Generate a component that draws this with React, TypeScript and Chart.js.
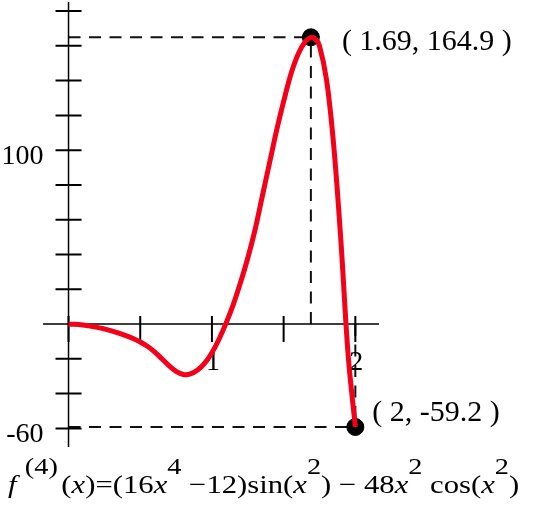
import { useEffect, useRef } from 'react';
import { Chart, registerables } from 'chart.js';

Chart.register(...registerables);

// curve samples
const xValues = [0, 0.1, 0.2, 0.3, 0.4, 0.45, 0.5, 0.55, 0.6, 0.65, 0.7, 0.75, 0.8, 0.85, 0.9, 0.95, 1.0, 1.05, 1.1, 1.15, 1.2, 1.25, 1.3, 1.35, 1.4, 1.45, 1.5, 1.55, 1.6, 1.65, 1.69, 1.72, 1.75, 1.8, 1.85, 1.9, 1.95, 2.0];
const fValues = [0, -0.6, -1.9, -3.9, -6.6, -8.3, -10.3, -12.8, -16, -19.9, -23.9, -27.2, -29, -28.7, -26.4, -22.5, -16.5, -8.6, 0.8, 11.5, 24, 38, 54, 73, 92, 111, 128, 143.5, 155, 162.3, 164.9, 164, 160, 140, 102, 47, -18, -59.2];

const xTicks = [0, 0.5, 1, 1.5, 2];
const xTickLabels = [1, 2];
const yTicks = [-60, -40, -20, 20, 40, 60, 80, 100, 120, 140, 160, 180];
const yTickLabels = [100, -60];

// marked points
const markX = [1.69, 2];
const markY = [164.9, -59.2];
const markText = ['( 1.69, 164.9 )', '( 2, -59.2 )'];

const FONT = '"Liberation Serif", "Times New Roman", serif';

const axesPlugin = {
  id: 'originAxes',
  beforeDatasetsDraw(chart: any) {
    const { ctx, chartArea, scales } = chart;
    const sx = scales.x;
    const sy = scales.y;
    const x0 = sx.getPixelForValue(0);
    const y0 = sy.getPixelForValue(0);
    ctx.save();

    // dashed guides
    ctx.setLineDash([12, 8.5]);
    ctx.lineWidth = 2;
    ctx.strokeStyle = '#111';
    markX.forEach((mx, i) => {
      const px = sx.getPixelForValue(mx);
      const py = sy.getPixelForValue(markY[i]);
      ctx.beginPath();
      ctx.moveTo(x0, py);
      ctx.lineTo(px, py);
      ctx.moveTo(px, y0);
      ctx.lineTo(px, py);
      ctx.stroke();
    });
    ctx.setLineDash([]);

    // axis lines
    ctx.strokeStyle = '#000';
    ctx.lineWidth = 1.5;
    ctx.beginPath();
    ctx.moveTo(chartArea.left, y0);
    ctx.lineTo(chartArea.right, y0);
    ctx.moveTo(x0, chartArea.top);
    ctx.lineTo(x0, chartArea.bottom);
    ctx.stroke();

    // ticks
    ctx.lineWidth = 2;
    ctx.beginPath();
    yTicks.forEach((v) => {
      const py = sy.getPixelForValue(v);
      ctx.moveTo(x0 - 13, py);
      ctx.lineTo(x0 + 13, py);
    });
    xTicks.forEach((v) => {
      const px = sx.getPixelForValue(v);
      ctx.moveTo(px, y0 - 8);
      ctx.lineTo(px, y0 + 18);
    });
    ctx.stroke();

    // tick labels
    ctx.fillStyle = '#000';
    ctx.font = `28px ${FONT}`;
    ctx.textBaseline = 'alphabetic';
    ctx.textAlign = 'right';
    yTickLabels.forEach((v) => {
      ctx.fillText(String(v), x0 - 25, sy.getPixelForValue(v) + 14);
    });
    ctx.textAlign = 'center';
    xTickLabels.forEach((v) => {
      ctx.fillText(String(v), sx.getPixelForValue(v) + 1, y0 + 46);
    });
    ctx.restore();
  },
  afterDraw(chart: any) {
    const { ctx, scales } = chart;
    ctx.save();
    ctx.fillStyle = '#000';
    ctx.font = `30px ${FONT}`;
    ctx.textAlign = 'left';
    ctx.textBaseline = 'alphabetic';
    const offsets = [[31, 13], [17, -6]];
    markText.forEach((t, i) => {
      const px = scales.x.getPixelForValue(markX[i]);
      const py = scales.y.getPixelForValue(markY[i]);
      ctx.fillText(t, px + offsets[i][0], py + offsets[i][1]);
    });
    ctx.restore();
  },
};

function DerivativePlot() {
  const canvasRef = useRef<HTMLCanvasElement>(null);
  const chartRef = useRef<Chart | null>(null);

  useEffect(() => {
    if (!canvasRef.current) return;
    if (chartRef.current) chartRef.current.destroy();
    const ctx = canvasRef.current.getContext('2d');
    if (!ctx) return;

    chartRef.current = new Chart(ctx, {
      type: 'line',
      data: {
        datasets: [
          {
            type: 'line',
            data: xValues.map((x, i) => ({ x, y: fValues[i] })),
            borderColor: '#f40018',
            borderWidth: 5,
            pointRadius: 0,
            tension: 0.35,
            fill: false,
            order: 0,
          },
          {
            type: 'scatter',
            data: markX.map((x, i) => ({ x, y: markY[i] })),
            backgroundColor: '#000',
            borderColor: '#000',
            pointRadius: 8.5,
            showLine: false,
            order: 1,
          },
        ],
      },
      options: {
        responsive: false,
        animation: false,
        layout: { autoPadding: false, padding: { left: 43, right: 171, top: 2, bottom: 65 } },
        plugins: { legend: { display: false }, tooltip: { enabled: false } },
        scales: {
          x: { type: 'linear', min: -0.178, max: 2.165, display: false },
          y: { type: 'linear', min: -70.7, max: 185.2, display: false },
        },
      },
      plugins: [axesPlugin],
    });

    return () => { chartRef.current?.destroy(); };
  }, []);

  return <canvas ref={canvasRef} width={550} height={512} style={{ display: 'block' }} />;
}

const sup: React.CSSProperties = { fontSize: 24, position: 'relative', top: -19 };

export default function App() {
  return (
    <div style={{ position: 'absolute', left: 0, top: 0, width: 550, height: 512, background: '#fff' }}>
      <DerivativePlot />
      <div
        style={{
          position: 'absolute',
          left: 8,
          top: 472,
          fontFamily: FONT,
          fontSize: 26,
          lineHeight: 1,
          whiteSpace: 'nowrap',
          color: '#000',
          transform: 'scaleX(1.18)',
          transformOrigin: 'left top',
        }}
      >
        <i>f</i><span style={{ ...sup, marginLeft: 7, marginRight: 3 }}>(4)</span>(<i>x</i>)=(16<i>x</i><span style={sup}>4</span> −12)sin(<i>x</i><span style={sup}>2</span>) − 48<i>x</i><span style={sup}>2</span> cos(<i>x</i><span style={sup}>2</span>)
      </div>
    </div>
  );
}
